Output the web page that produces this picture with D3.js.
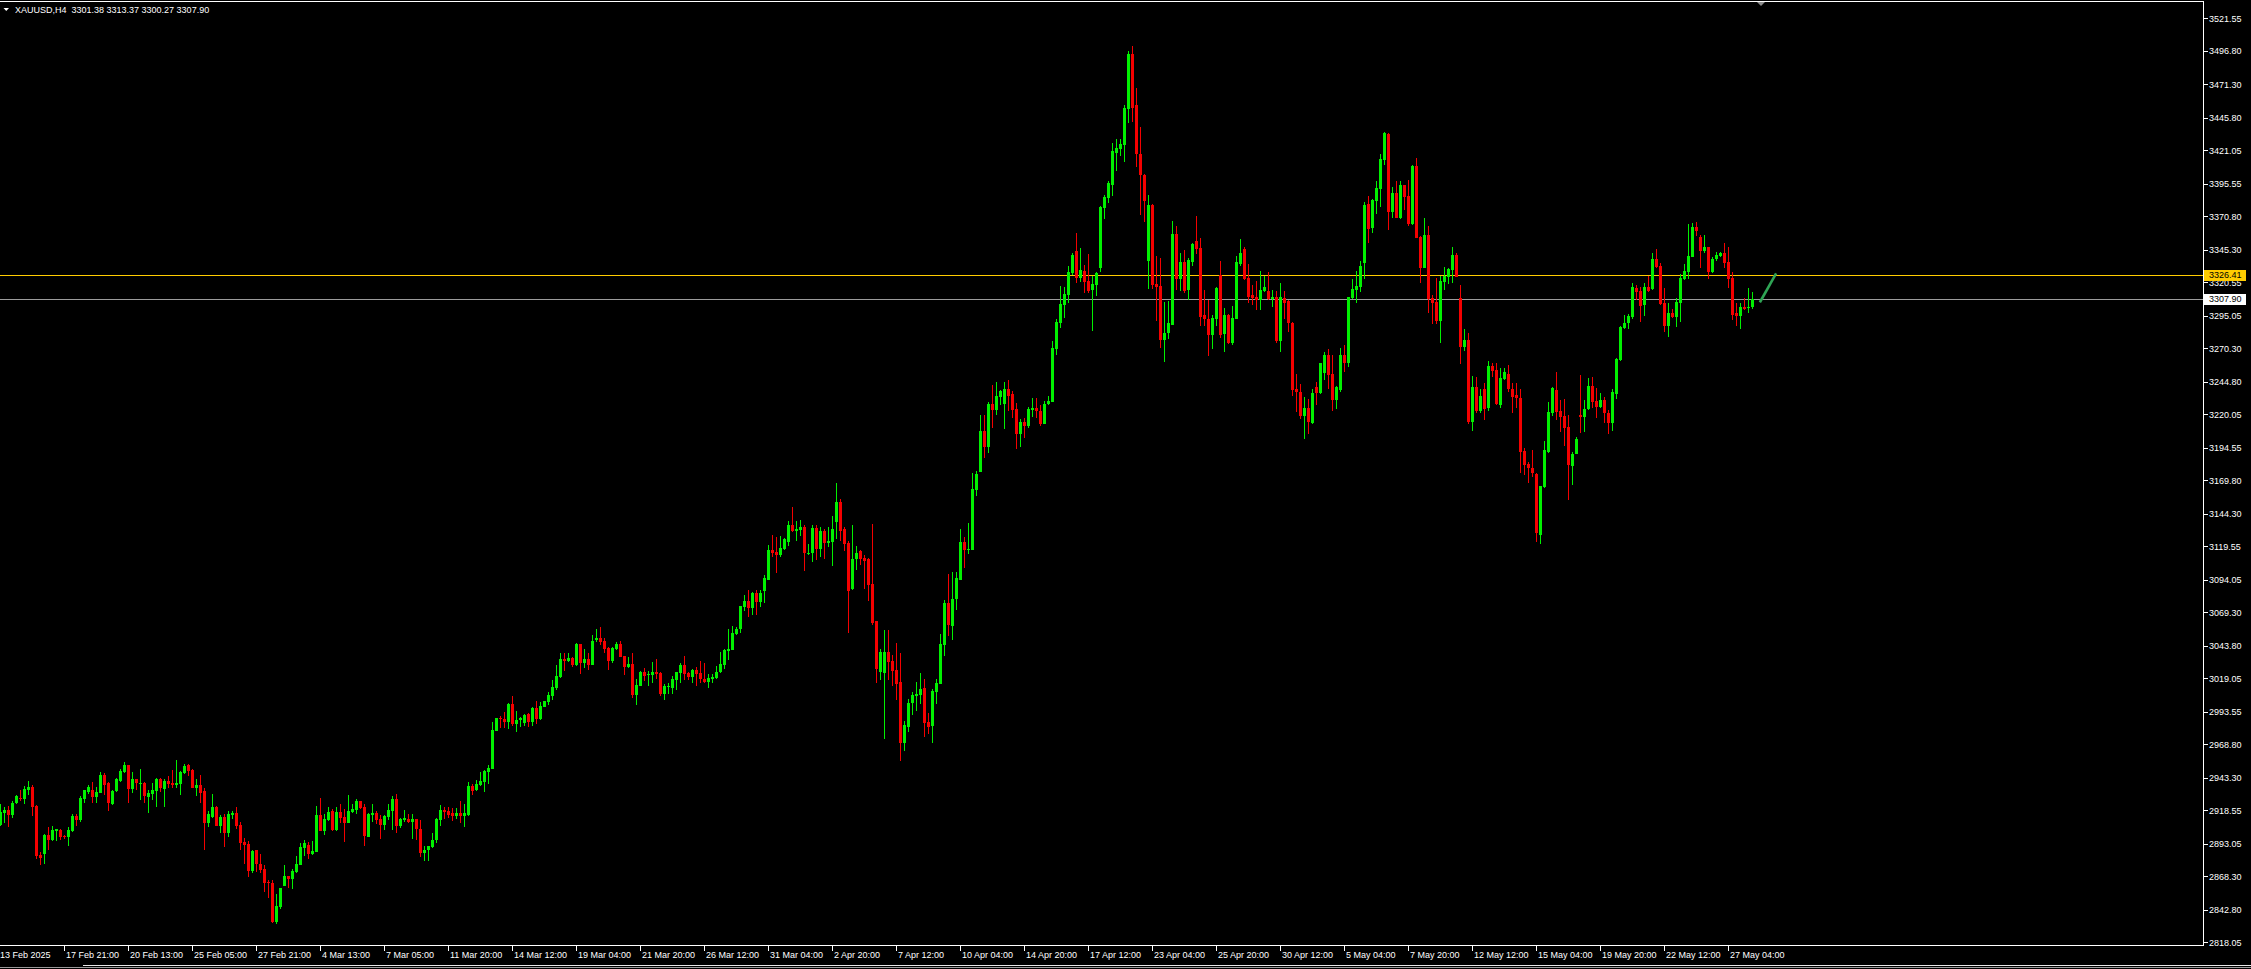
<!DOCTYPE html>
<html>
<head>
<meta charset="utf-8">
<script src="https://cdn.jsdelivr.net/npm/d3@7/dist/d3.min.js"></script>
<style>
  html, body { margin: 0; padding: 0; background: #000; overflow: hidden; }
  svg { display: block; }
  text { font-family: "Liberation Sans", Arial, sans-serif; font-size: 9px; fill: #fff; }
</style>
</head>
<body>
<script>
// ---------- DATA (XAUUSD H4) ----------
const symbolTitle = "XAUUSD,H4";
const lastQuote = ["3301.38", "3313.37", "3300.27", "3307.90"];

const opens = [
2907.4,2916.3,2918.8,2915.0,2923.9,2928.2,2927.2,2934.0,2936.3,2921.8,
2884.5,2885.3,2899.8,2896.0,2903.1,2903.6,2899.0,2898.5,2903.1,2914.2,
2911.2,2927.2,2932.8,2934.0,2929.0,2932.0,2945.7,2939.1,2923.4,2933.5,
2941.1,2947.7,2953.1,2934.8,2942.4,2938.4,2939.6,2929.0,2930.7,2933.5,
2942.4,2935.0,2940.9,2939.6,2938.1,2938.9,2946.7,2953.1,2949.3,2935.8,
2937.8,2933.5,2909.2,2913.7,2921.1,2906.9,2913.5,2901.5,2915.3,2916.3,
2907.4,2894.4,2892.9,2872.6,2888.3,2877.7,2874.1,2864.2,2862.9,2833.5,
2845.2,2861.2,2868.5,2866.0,2871.8,2877.2,2890.1,2892.2,2885.6,2887.1,
2915.0,2903.1,2911.2,2918.3,2903.3,2917.3,2913.2,2909.2,2917.3,2918.8,
2925.4,2921.1,2898.5,2915.3,2916.3,2912.0,2907.6,2913.5,2918.3,2926.9,
2906.6,2911.2,2912.2,2909.9,2912.0,2904.1,2886.3,2888.3,2890.9,2896.0,
2911.2,2918.8,2918.3,2916.7,2914.2,2916.7,2914.5,2915.0,2937.0,2934.0,
2937.8,2940.3,2948.0,2950.0,2979.2,2988.6,2988.3,2986.0,2999.5,2984.3,
2987.3,2984.8,2991.6,2986.0,2996.7,2988.1,2997.5,3001.3,3005.8,3011.9,
3020.3,3033.5,3032.5,3034.8,3029.2,3045.2,3030.4,3033.7,3029.2,3048.2,
3050.0,3047.5,3042.4,3032.2,3041.4,3045.2,3036.0,3027.9,3030.0,3006.3,
3013.2,3023.8,3021.3,3021.6,3023.8,3023.3,3007.1,3012.2,3011.9,3017.8,
3023.3,3029.2,3023.1,3019.8,3025.4,3023.1,3018.5,3016.0,3018.8,3019.5,
3023.6,3029.2,3039.8,3040.6,3052.8,3056.6,3073.6,3077.9,3072.8,3084.3,
3077.4,3085.8,3093.9,3116.7,3115.5,3112.9,3117.2,3123.1,3135.8,3131.5,
3132.0,3134.5,3113.4,3114.2,3133.2,3117.5,3131.2,3122.3,3123.1,3138.3,
3153.3,3132.5,3122.3,3086.8,3109.6,3116.2,3110.4,3109.6,3090.9,3062.6,
3024.0,3023.3,3039.1,3031.9,3025.4,3016.1,2970.1,2981.9,2999.9,3005.3,
3006.0,3011.4,2985.5,2982.6,3008.5,3015.0,3044.4,3076.1,3059.2,3079.7,
3094.0,3122.8,3116.7,3116.7,3162.3,3176.0,3207.2,3195.4,3228.1,3223.4,
3233.1,3228.1,3239.6,3235.3,3224.1,3204.7,3214.4,3210.8,3223.4,3224.8,
3222.7,3212.6,3228.1,3229.5,3270.1,3289.2,3303.2,3310.7,3327.6,3344.5,
3324.0,3329.4,3321.5,3315.0,3318.6,3331.2,3377.2,3384.7,3394.8,3419.2,
3422.1,3425.0,3452.7,3494.7,3455.2,3418.5,3402.4,3336.6,3379.7,3319.3,
3317.5,3276.6,3281.6,3288.1,3357.4,3322.9,3335.9,3315.0,3335.9,3351.7,
3346.3,3295.3,3292.7,3280.2,3292.7,3325.8,3280.9,3295.3,3274.4,3292.7,
3334.8,3345.6,3324.0,3310.7,3309.6,3307.1,3314.3,3314.3,3307.8,3309.6,
3275.5,3308.9,3306.0,3289.9,3239.6,3236.7,3218.7,3224.5,3213.7,3240.6,
3236.0,3251.2,3265.2,3250.7,3230.9,3238.6,3265.2,3259.4,3308.3,3314.7,
3317.2,3335.0,3380.2,3361.6,3382.5,3391.6,3413.7,3433.2,3374.3,3388.3,
3369.8,3394.6,3386.3,3365.0,3409.1,3355.3,3331.7,3356.6,3308.3,3305.8,
3291.1,3321.0,3324.9,3329.9,3341.3,3308.3,3271.0,3276.6,3214.4,3241.1,
3222.8,3239.1,3224.6,3256.8,3253.8,3227.1,3246.9,3250.7,3239.6,3234.5,
3232.7,3192.1,3182.2,3178.9,3174.6,3128.1,3164.9,3191.6,3221.3,3238.6,
3222.6,3219.0,3210.1,3180.9,3189.8,3219.5,3218.2,3223.8,3241.9,3230.2,
3225.9,3230.9,3221.3,3213.7,3235.5,3261.4,3285.5,3289.8,3294.4,3316.5,
3313.9,3303.3,3317.2,3315.2,3338.3,3333.2,3304.5,3287.5,3297.4,3294.4,
3305.0,3323.1,3328.7,3340.1,3362.9,3354.8,3344.4,3347.7,3328.7,3338.0,
3340.8,3343.1,3335.8,3324.1,3296.9,3295.1,3301.5,3300.7,3301.38
];

const highs = [
2923.4,2921.3,2921.8,2925.7,2930.2,2934.0,2937.1,2940.9,2937.6,2922.3,
2887.1,2900.5,2905.6,2906.6,2904.6,2904.6,2899.5,2905.6,2915.8,2915.8,
2929.5,2934.3,2937.8,2940.1,2936.1,2947.7,2946.7,2940.4,2934.0,2942.9,
2950.3,2955.3,2953.3,2947.7,2942.6,2950.0,2940.1,2934.0,2939.6,2943.2,
2943.2,2942.2,2944.7,2949.3,2956.9,2948.5,2953.8,2953.8,2949.8,2942.4,
2945.5,2935.3,2918.0,2931.0,2921.8,2914.7,2915.8,2917.8,2918.0,2920.8,
2909.7,2897.5,2895.2,2888.0,2888.6,2885.3,2876.9,2865.5,2865.5,2854.8,
2859.6,2876.9,2868.8,2873.9,2883.8,2893.9,2896.0,2894.4,2895.5,2921.8,
2927.9,2915.8,2920.8,2919.6,2921.3,2923.4,2919.6,2930.0,2923.4,2927.4,
2925.9,2923.4,2916.8,2923.4,2918.0,2915.0,2915.0,2923.4,2929.5,2931.0,
2912.7,2918.8,2915.8,2915.8,2912.3,2911.2,2891.4,2891.7,2901.0,2912.7,
2922.6,2921.3,2921.3,2920.0,2920.0,2925.6,2923.1,2940.3,2938.3,2941.6,
2948.0,2949.2,2953.0,2986.0,2988.8,2990.3,2993.6,3000.0,3005.6,2994.2,
2989.8,2991.6,2992.9,2997.5,3001.8,3000.8,3002.0,3008.9,3017.8,3029.2,
3038.6,3038.1,3038.6,3035.5,3046.2,3045.5,3041.4,3038.1,3052.0,3056.6,
3058.1,3050.0,3043.2,3043.2,3046.4,3047.2,3036.3,3035.0,3038.1,3018.3,
3024.6,3026.6,3024.6,3031.2,3033.5,3024.1,3014.5,3015.2,3020.8,3024.1,
3031.0,3036.0,3023.8,3026.1,3027.4,3032.0,3030.7,3022.3,3022.3,3028.4,
3038.8,3041.4,3056.3,3059.1,3058.4,3074.3,3082.5,3086.3,3085.0,3086.3,
3086.3,3097.4,3120.3,3128.1,3126.4,3127.4,3125.6,3138.8,3149.2,3138.8,
3139.6,3135.8,3121.3,3135.8,3135.8,3134.5,3132.5,3134.5,3142.6,3167.5,
3155.3,3134.2,3123.9,3135.8,3119.5,3116.7,3112.9,3110.4,3136.5,3062.8,
3041.2,3055.6,3055.6,3036.5,3046.2,3038.3,2986.9,3003.1,3008.5,3016.1,
3023.3,3018.6,2992.7,3010.7,3018.6,3052.7,3078.6,3098.7,3100.2,3100.2,
3132.9,3126.4,3137.2,3175.6,3176.7,3219.8,3219.8,3229.5,3242.4,3244.9,
3238.9,3244.9,3246.0,3237.8,3228.8,3216.2,3216.9,3225.9,3232.4,3232.4,
3227.0,3230.2,3233.8,3275.5,3292.8,3317.5,3316.8,3332.9,3343.0,3358.2,
3346.3,3333.7,3342.0,3325.1,3328.3,3379.0,3386.9,3397.7,3426.4,3430.0,
3430.0,3455.2,3496.5,3500.4,3468.5,3438.6,3402.7,3386.9,3380.4,3340.2,
3339.1,3305.3,3306.0,3367.1,3363.5,3342.7,3344.8,3339.1,3350.2,3371.4,
3354.6,3315.0,3306.8,3295.3,3316.8,3336.6,3300.7,3296.3,3302.5,3340.9,
3353.5,3347.4,3334.8,3318.6,3321.5,3329.4,3325.1,3328.3,3315.0,3313.9,
3319.7,3314.3,3307.1,3290.2,3251.1,3243.1,3233.1,3231.7,3239.6,3244.9,
3259.0,3267.2,3269.5,3265.2,3241.9,3270.3,3272.8,3309.6,3322.8,3329.2,
3337.0,3381.9,3386.5,3383.7,3397.7,3418.2,3435.0,3434.0,3393.4,3397.7,
3397.9,3395.0,3398.4,3409.9,3414.9,3355.5,3369.3,3363.4,3310.9,3324.1,
3325.4,3332.5,3331.7,3347.2,3342.6,3318.5,3285.0,3281.7,3249.2,3248.7,
3239.1,3243.6,3260.6,3259.4,3258.9,3255.0,3255.5,3257.6,3243.6,3243.6,
3239.1,3194.1,3184.0,3192.9,3175.6,3165.6,3199.7,3229.7,3240.6,3252.0,
3230.9,3231.4,3219.5,3191.6,3203.0,3249.9,3230.9,3247.9,3248.2,3240.3,
3236.0,3233.0,3223.3,3239.1,3262.7,3287.3,3295.6,3296.2,3320.3,3318.5,
3317.2,3320.3,3325.6,3342.6,3345.9,3335.0,3315.9,3305.0,3299.9,3308.9,
3326.6,3334.5,3364.9,3365.5,3366.7,3356.6,3356.6,3347.8,3340.1,3343.9,
3343.9,3350.7,3347.7,3328.1,3304.5,3305.0,3308.3,3315.9,3313.37
];

const lows = [
2906.6,2908.6,2906.1,2913.0,2923.4,2925.7,2923.6,2930.2,2914.2,2881.5,
2876.9,2877.7,2888.3,2895.2,2895.5,2896.0,2896.5,2891.4,2902.3,2906.6,
2909.7,2923.9,2931.0,2924.4,2924.4,2931.5,2930.2,2918.3,2922.6,2932.8,
2940.1,2946.7,2924.4,2932.0,2934.0,2926.4,2924.4,2916.8,2926.4,2921.3,
2932.3,2921.3,2935.3,2935.3,2935.3,2930.5,2946.2,2944.9,2935.3,2929.5,
2924.4,2888.3,2906.1,2912.7,2906.6,2901.5,2890.9,2898.5,2912.0,2904.6,
2888.3,2877.7,2868.0,2870.6,2871.8,2870.6,2856.6,2851.5,2832.5,2832.3,
2843.7,2860.9,2859.7,2858.9,2871.1,2876.9,2884.0,2881.5,2884.3,2886.8,
2902.9,2899.8,2910.7,2902.8,2903.1,2908.6,2894.7,2908.6,2916.3,2915.8,
2919.6,2891.4,2898.0,2909.9,2908.1,2896.7,2903.6,2911.2,2903.6,2901.5,
2904.8,2909.9,2908.6,2896.5,2896.0,2883.0,2880.2,2880.2,2889.6,2893.9,
2906.9,2911.7,2912.4,2910.7,2911.7,2909.1,2906.1,2914.2,2930.2,2933.2,
2937.3,2932.7,2938.6,2949.8,2978.9,2980.9,2980.9,2980.4,2982.7,2978.4,
2981.7,2982.7,2982.2,2982.7,2984.3,2987.3,2997.0,2998.7,3002.5,3010.1,
3019.5,3024.6,3031.7,3027.4,3028.4,3022.3,3027.1,3025.4,3029.0,3047.0,
3044.4,3038.6,3025.4,3030.4,3040.6,3035.0,3021.6,3027.2,3003.8,2998.7,
3013.0,3017.3,3013.2,3015.2,3018.5,3005.8,3002.5,3007.1,3007.1,3010.1,
3015.2,3017.8,3017.8,3015.7,3013.2,3015.2,3015.2,3011.9,3015.7,3018.5,
3022.8,3026.1,3033.0,3040.5,3052.0,3053.8,3070.5,3066.0,3067.2,3067.2,
3073.6,3076.6,3093.8,3111.6,3099.5,3111.1,3116.7,3119.8,3130.7,3123.6,
3127.6,3100.7,3112.9,3107.9,3109.1,3111.6,3110.1,3119.3,3104.8,3124.9,
3123.9,3116.2,3053.8,3086.6,3101.5,3105.3,3087.0,3078.1,3059.6,3015.7,
3017.5,2972.6,3017.5,3013.2,3002.4,2956.4,2963.9,2978.3,2990.9,2994.1,
2999.3,2974.7,2976.5,2970.1,2999.5,3014.9,3035.8,3051.6,3048.0,3071.4,
3093.8,3103.0,3113.8,3116.5,3158.0,3175.8,3186.7,3190.3,3209.7,3219.8,
3227.0,3209.0,3222.7,3216.9,3193.9,3195.4,3201.8,3209.7,3218.0,3217.3,
3210.8,3212.5,3227.0,3229.4,3265.4,3285.6,3293.5,3305.0,3325.8,3319.7,
3320.4,3312.5,3312.2,3283.4,3310.4,3328.3,3368.9,3380.8,3386.2,3405.6,
3416.4,3412.0,3441.9,3442.6,3408.5,3371.8,3366.4,3315.7,3315.7,3290.9,
3270.8,3260.0,3277.3,3287.9,3315.0,3314.0,3312.5,3306.8,3333.0,3342.0,
3287.0,3287.4,3264.7,3270.1,3287.4,3278.0,3267.6,3273.7,3273.0,3292.6,
3333.0,3322.2,3305.0,3303.2,3299.6,3299.6,3312.9,3306.8,3301.4,3274.4,
3267.2,3292.8,3282.7,3234.2,3221.6,3216.2,3201.5,3204.7,3212.6,3227.0,
3235.5,3246.2,3239.1,3222.6,3224.1,3237.3,3252.5,3256.3,3307.8,3305.0,
3313.4,3323.1,3350.2,3358.4,3372.3,3377.6,3409.9,3360.4,3369.8,3369.3,
3368.7,3375.6,3363.4,3364.2,3354.0,3320.3,3331.2,3297.4,3288.6,3288.8,
3274.6,3314.7,3319.3,3320.3,3324.3,3258.4,3268.5,3212.7,3207.6,3221.3,
3220.8,3215.7,3222.8,3248.7,3227.1,3225.1,3246.2,3237.3,3221.3,3224.6,
3175.1,3173.8,3168.0,3172.6,3123.1,3121.0,3164.2,3190.3,3218.8,3215.7,
3206.3,3195.9,3154.8,3166.2,3189.6,3205.6,3206.8,3223.3,3224.6,3217.0,
3224.6,3213.7,3204.8,3207.6,3231.7,3260.9,3284.7,3284.7,3292.4,3307.1,
3290.6,3294.9,3313.4,3314.7,3331.2,3303.3,3283.0,3279.2,3293.1,3286.8,
3290.6,3322.3,3322.8,3339.6,3355.8,3331.2,3343.1,3323.1,3327.4,3337.0,
3340.1,3331.2,3315.9,3291.9,3287.5,3285.0,3299.5,3297.4,3300.27
];

const closes = [
2917.5,2918.8,2915.0,2924.4,2929.5,2927.2,2934.8,2936.3,2921.3,2884.0,
2882.5,2899.8,2896.0,2903.6,2904.1,2898.5,2898.0,2903.6,2914.2,2911.2,
2928.2,2934.0,2936.3,2929.0,2932.8,2945.5,2937.8,2924.4,2933.3,2942.2,
2948.8,2953.3,2934.8,2942.4,2939.6,2939.6,2929.7,2931.5,2934.0,2942.4,
2935.8,2941.1,2938.4,2938.1,2939.6,2947.7,2952.3,2948.8,2935.8,2937.8,
2932.0,2909.2,2915.8,2921.1,2906.9,2913.5,2901.5,2915.8,2916.3,2906.6,
2893.9,2892.4,2872.6,2887.6,2877.7,2873.1,2863.5,2863.0,2833.5,2845.7,
2859.4,2868.5,2866.0,2872.4,2877.7,2890.9,2893.4,2885.6,2887.6,2915.0,
2903.1,2912.0,2917.3,2903.6,2917.5,2912.7,2909.2,2918.0,2919.6,2925.7,
2920.1,2899.0,2915.8,2916.8,2911.2,2907.4,2914.0,2918.8,2926.9,2906.6,
2912.2,2912.7,2909.7,2912.0,2904.1,2886.3,2888.3,2891.4,2896.0,2912.0,
2918.8,2917.5,2915.0,2914.2,2916.7,2914.5,2916.7,2937.0,2933.5,2938.3,
2940.8,2948.5,2950.5,2979.7,2988.6,2987.8,2986.0,2999.5,2984.3,2987.3,
2988.6,2991.1,2986.0,2996.7,2988.1,2998.0,3001.8,3006.3,3012.2,3020.8,
3033.5,3032.5,3034.8,3029.2,3045.2,3030.4,3033.7,3029.2,3047.5,3049.7,
3047.0,3041.4,3032.2,3041.9,3045.2,3035.5,3027.9,3030.0,3006.3,3014.0,
3023.8,3020.8,3022.3,3023.8,3022.3,3007.1,3013.2,3012.9,3018.5,3023.8,
3029.2,3022.3,3019.8,3025.1,3022.3,3018.5,3016.5,3019.0,3020.3,3023.8,
3030.0,3040.6,3041.4,3053.3,3056.6,3074.1,3077.9,3072.8,3084.3,3077.4,
3083.7,3095.6,3116.7,3114.7,3112.9,3118.0,3124.9,3135.8,3131.2,3132.7,
3134.5,3114.2,3114.2,3133.2,3117.5,3131.2,3122.3,3123.9,3132.7,3153.3,
3131.5,3121.3,3085.8,3109.9,3114.7,3109.6,3108.6,3090.1,3061.4,3025.9,
3039.1,3039.1,3031.2,3024.7,3015.0,2970.1,2983.7,3000.6,3006.0,3007.1,
3010.7,2985.2,2981.9,3009.6,3015.7,3045.5,3076.1,3059.9,3079.7,3095.1,
3122.8,3116.7,3117.4,3163.4,3174.9,3207.2,3195.4,3228.1,3223.4,3234.2,
3237.8,3239.6,3234.2,3223.4,3204.7,3214.4,3210.8,3224.1,3224.8,3222.3,
3212.6,3228.1,3230.2,3270.8,3290.6,3304.2,3311.4,3328.3,3341.3,3324.0,
3330.1,3321.1,3314.3,3319.3,3327.6,3377.9,3385.8,3395.9,3420.3,3422.8,
3425.7,3453.4,3494.7,3453.4,3418.2,3402.0,3382.2,3379.7,3318.6,3316.8,
3276.6,3281.6,3289.9,3357.4,3322.9,3335.9,3314.3,3337.3,3349.9,3345.6,
3294.2,3292.4,3280.2,3293.5,3316.1,3280.2,3295.3,3274.4,3293.5,3335.9,
3342.7,3322.9,3309.6,3308.9,3307.1,3315.0,3316.8,3307.8,3309.6,3275.5,
3309.6,3305.0,3289.2,3238.5,3236.7,3218.7,3225.2,3214.4,3236.0,3236.0,
3258.9,3265.2,3249.9,3230.9,3241.1,3265.2,3259.4,3309.1,3315.5,3317.7,
3333.0,3379.4,3361.1,3383.2,3392.1,3414.2,3434.5,3374.3,3388.3,3369.8,
3394.6,3385.8,3365.0,3409.4,3354.5,3331.7,3356.6,3307.6,3305.0,3291.1,
3321.6,3325.4,3330.7,3341.3,3324.9,3271.0,3276.6,3214.4,3241.1,3222.8,
3234.0,3223.8,3256.8,3253.3,3227.6,3247.9,3252.5,3239.1,3233.5,3232.2,
3191.6,3181.4,3179.4,3175.6,3129.4,3165.4,3192.9,3221.8,3239.8,3222.1,
3218.2,3209.4,3181.4,3189.8,3201.2,3218.2,3224.1,3241.9,3229.7,3225.9,
3230.9,3221.3,3213.7,3237.3,3261.9,3286.3,3289.8,3294.9,3317.2,3313.4,
3302.8,3317.2,3313.9,3338.3,3332.5,3304.0,3287.5,3297.4,3294.4,3305.8,
3324.1,3329.2,3340.6,3362.9,3359.6,3344.4,3347.7,3328.7,3338.3,3341.3,
3343.1,3335.5,3323.1,3295.6,3295.1,3301.5,3300.0,3302.0,3307.90
];

// price-axis labels (top to bottom)
const priceTicks = ["3521.55","3496.80","3471.30","3445.80","3421.05","3395.55","3370.80","3345.30",
  "3320.55","3295.05","3270.30","3244.80","3220.05","3194.55","3169.80","3144.30","3119.55",
  "3094.05","3069.30","3043.80","3019.05","2993.55","2968.80","2943.30","2918.55","2893.05",
  "2868.30","2842.80","2818.05"];

// time-axis labels, one every 16 bars
const timeLabels = ["13 Feb 2025","17 Feb 21:00","20 Feb 13:00","25 Feb 05:00","27 Feb 21:00",
  "4 Mar 13:00","7 Mar 05:00","11 Mar 20:00","14 Mar 12:00","19 Mar 04:00","21 Mar 20:00",
  "26 Mar 12:00","31 Mar 04:00","2 Apr 20:00","7 Apr 12:00","10 Apr 04:00","14 Apr 20:00",
  "17 Apr 12:00","23 Apr 04:00","25 Apr 20:00","30 Apr 12:00","5 May 04:00","7 May 20:00",
  "12 May 12:00","15 May 04:00","19 May 20:00","22 May 12:00","27 May 04:00"];
const barsPerTimeLabel = 16;

// horizontal level (yellow) and bid line (grey)
const levelPrice = 3326.41;
const bidPrice = 3307.90;

// short green drawn line at the right end: [bar, price]
const drawnLineBars = [440, 443.75];
const drawnLinePrices = [3306.2, 3326.41];
const shiftMarkerBar = 440;

// ---------- DRAWING ----------
const W = 2251, H = 969;
const plotRight = 2203.5, plotBottom = 945.5, plotTop = 1.5;
const bullColor = "#00f000", bearColor = "#f40000";

const svg = d3.select("body").append("svg")
  .attr("width", W).attr("height", H)
  .style("background", "#000");

const n = Math.min(opens.length, highs.length, lows.length, closes.length);
const bars = d3.range(n).map(i => ({ i, o: opens[i], h: highs[i], l: lows[i], c: closes[i] }));

const x = d3.scaleLinear().domain([0, 438]).range([0.5, 1752.5]);
const y = d3.scaleLinear().domain([2818.05, 3521.55]).range([942.3, 18.3]);

const plot = svg.append("g").attr("shape-rendering", "crispEdges");

// level lines
plot.append("line").attr("x1", 0).attr("x2", plotRight)
  .attr("y1", Math.round(y(bidPrice)) + 0.5).attr("y2", Math.round(y(bidPrice)) + 0.5)
  .attr("stroke", "#9c9c9c").attr("stroke-width", 1);
plot.append("line").attr("x1", 0).attr("x2", plotRight)
  .attr("y1", Math.round(y(levelPrice)) + 0.5).attr("y2", Math.round(y(levelPrice)) + 0.5)
  .attr("stroke", "#ffcc00").attr("stroke-width", 1);

// wicks
plot.selectAll("rect.wick").data(bars).enter().append("rect")
  .attr("class", "wick")
  .attr("x", d => x(d.i) - 0.5)
  .attr("width", 1)
  .attr("y", d => y(d.h))
  .attr("height", d => Math.max(1, y(d.l) - y(d.h)))
  .attr("fill", d => d.c >= d.o ? bullColor : bearColor);

// bodies
plot.selectAll("rect.body").data(bars).enter().append("rect")
  .attr("class", "body")
  .attr("x", d => x(d.i) - 1.5)
  .attr("width", 3)
  .attr("y", d => y(Math.max(d.o, d.c)))
  .attr("height", d => Math.max(1, Math.abs(y(d.o) - y(d.c))))
  .attr("fill", d => d.c >= d.o ? bullColor : bearColor);

// drawn green line
svg.append("line")
  .attr("x1", x(drawnLineBars[0])).attr("y1", y(drawnLinePrices[0]))
  .attr("x2", x(drawnLineBars[1])).attr("y2", y(drawnLinePrices[1]))
  .attr("stroke", "#2fa455").attr("stroke-width", 2.6).attr("stroke-linecap", "square");

// frame
const frame = svg.append("g").attr("shape-rendering", "crispEdges").attr("stroke", "#ffffff").attr("stroke-width", 1);
frame.append("line").attr("x1", 0).attr("x2", plotRight).attr("y1", plotTop).attr("y2", plotTop);
frame.append("line").attr("x1", plotRight).attr("x2", plotRight).attr("y1", plotTop).attr("y2", plotBottom);
frame.append("line").attr("x1", 0).attr("x2", plotRight).attr("y1", plotBottom).attr("y2", plotBottom);

// chart-shift marker
const sx = Math.round(x(shiftMarkerBar));
svg.append("path")
  .attr("d", `M${sx - 4},2 L${sx + 4},2 L${sx},6 Z`)
  .attr("fill", "#8c8c8c");

// price axis
const pa = svg.append("g");
priceTicks.forEach(t => {
  const yy = Math.round(y(+t)) + 0.5;
  pa.append("line").attr("x1", plotRight).attr("x2", plotRight + 4)
    .attr("y1", yy).attr("y2", yy).attr("stroke", "#fff").attr("shape-rendering", "crispEdges");
  pa.append("text").attr("x", 2209).attr("y", y(+t)).attr("dy", "0.36em").text(t);
});

// current level labels
function priceBox(p, fill) {
  const yy = y(p);
  pa.append("rect").attr("x", 2204).attr("y", Math.round(yy) - 5).attr("width", 42).attr("height", 11)
    .attr("fill", fill).attr("shape-rendering", "crispEdges");
  pa.append("text").attr("x", 2209).attr("y", yy).attr("dy", "0.36em")
    .style("fill", "#000").text(p.toFixed(2));
}
priceBox(levelPrice, "#ffcc00");
priceBox(bidPrice, "#ffffff");

// time axis
const ta = svg.append("g");
timeLabels.forEach((t, k) => {
  const xx = x(k * barsPerTimeLabel) - 0.5;
  if (k > 0) {
    ta.append("line").attr("x1", xx + 0.5).attr("x2", xx + 0.5)
      .attr("y1", plotBottom).attr("y2", plotBottom + 5)
      .attr("stroke", "#fff").attr("shape-rendering", "crispEdges");
  }
  ta.append("text").attr("x", k === 0 ? 0 : xx + 2).attr("y", 957.5).text(t);
});

// window bottom edge
svg.append("line").attr("x1", 83).attr("x2", W).attr("y1", 965.5).attr("y2", 965.5)
  .attr("stroke", "#e8e8e8").attr("shape-rendering", "crispEdges");
svg.append("line").attr("x1", 0).attr("x2", W).attr("y1", 967.5).attr("y2", 967.5)
  .attr("stroke", "#9a9a9a").attr("shape-rendering", "crispEdges");

// title
svg.append("path").attr("d", "M3.5,8 L9,8 L6.25,11 Z").attr("fill", "#fff");
svg.append("text").attr("x", 15).attr("y", 12.5).attr("xml:space", "preserve")
  .style("white-space", "pre")
  .text(symbolTitle + "  " + lastQuote.join(" "));
</script>
</body>
</html>
